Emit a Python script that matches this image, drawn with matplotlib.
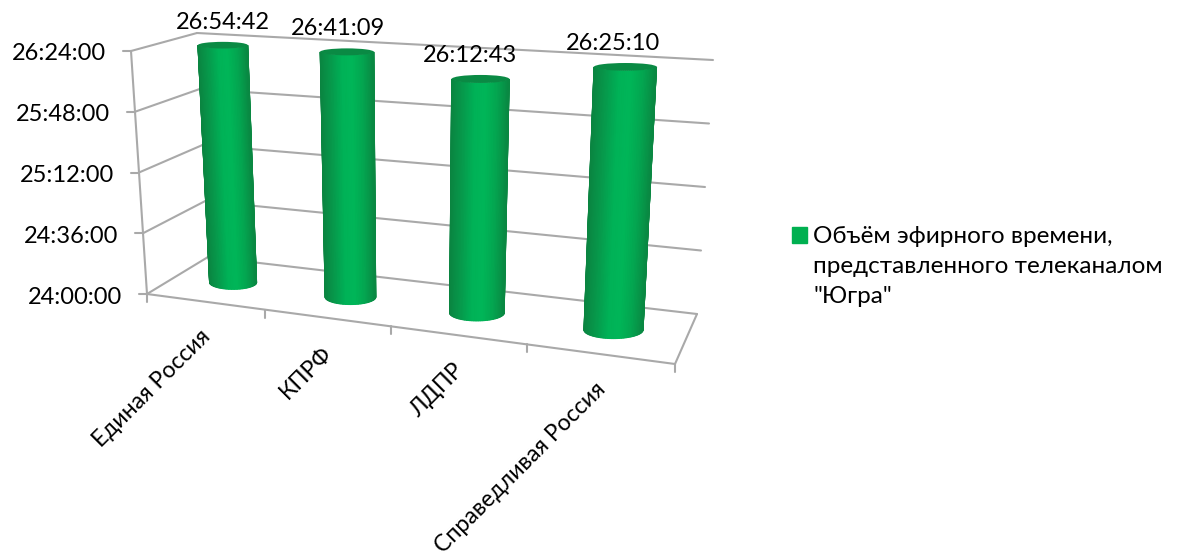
import numpy as np
import matplotlib
matplotlib.use("Agg")
import matplotlib.pyplot as plt
from matplotlib.patches import Patch, Ellipse, Rectangle
from matplotlib.colors import LinearSegmentedColormap
from matplotlib.legend_handler import HandlerPatch

plt.rcParams['font.family'] = ['Lato', 'Open Sans', 'DejaVu Sans']

# ── DATA ─────────────────────────────────────────────────────
categories = ["Единая Россия", "КПРФ", "ЛДПР", "Справедливая Россия"]
durations = ["26:54:42", "26:41:09", "26:12:43", "26:25:10"]
y_ticks = ["24:00:00", "24:36:00", "25:12:00", "25:48:00", "26:24:00"]
series_name = 'Объём эфирного времени,\nпредставленного телеканалом\n"Югра"'

# ── STYLE ────────────────────────────────────────────────────
GRID = "#a9a9a9"
FONT = 17
LABEL_DX = [0, -9, -10, -12]
shade = LinearSegmentedColormap.from_list(
    "cyl", ["#0a8541", "#079a4c", "#00b257", "#00b658", "#04a550", "#0a8842"])

# frame corners in figure pixels: floor, then the 26:24:00 plane
FLOOR = {"fl": (147, 294), "fr": (675, 364), "bl": (208, 257), "br": (697, 314)}
ROOF = {"fl": (131, 51), "fr": (691, 82), "bl": (197, 33), "br": (713, 60)}
K = 1.164   # perspective along the category axis


def secs(t):
    h, m, s = t.split(":")
    return int(h) * 3600 + int(m) * 60 + int(s)


def warp(u):
    return u / (u + K * (1 - u))


def plane(c, u, w):
    f = warp(u)
    front = np.array(c["fl"]) * (1 - f) + np.array(c["fr"]) * f
    back = np.array(c["bl"]) * (1 - f) + np.array(c["br"]) * f
    return front * (1 - w) + back * w


def proj(u, w, v):
    return plane(FLOOR, u, w) * (1 - v) + plane(ROOF, u, w) * v


vmin, vmax = secs(y_ticks[0]), secs(y_ticks[-1])
levels = [(secs(t) - vmin) / (vmax - vmin) for t in y_ticks]

fig = plt.figure(figsize=(11.78, 5.59), dpi=100)
ax = fig.add_axes([0, 0, 1, 1])
ax.set_xlim(0, 1178)
ax.set_ylim(559, 0)
ax.axis("off")


def seg(a, b, lw=1.5):
    ax.plot([a[0], b[0]], [a[1], b[1]], color=GRID, lw=lw, zorder=1,
            solid_capstyle="round")


# ── WALLS AND GRID ───────────────────────────────────────────
for v, t in zip(levels, y_ticks):
    fl, bl, br = proj(0, 0, v), proj(0, 1, v), proj(1, 1, v)
    seg(fl, bl)
    seg(bl, br)
    seg(fl, fl - np.array([8, 0]))
    ax.text(fl[0] - 25, fl[1] + 3, t, ha="right", va="center",
            fontsize=FONT, color="black")

seg(proj(0, 0, 0), proj(0, 0, 1))
seg(proj(0, 0, 0), proj(1, 0, 0))
seg(proj(1, 0, 0), proj(1, 1, 0))

n = len(categories)
for i in range(n + 1):
    p = proj(i / n, 0, 0)
    q = proj(i / n, 0, 0) + np.array([0, 8])
    seg(p, q)

# ── CYLINDERS ────────────────────────────────────────────────
DU, DW, STRIPS = 0.052, 0.18, 48
for i, (name, d) in enumerate(zip(categories, durations)):
    u = (i + 0.5) / n
    # columns above the axis maximum are cut off at the top plane
    v = min(1.0, (secs(d) - vmin) / (vmax - vmin))
    c0, c1 = proj(u, 0.5, 0), proj(u, 0.5, v)
    rx0 = (proj(u + DU, 0.5, 0)[0] - proj(u - DU, 0.5, 0)[0]) / 2
    rx1 = (proj(u + DU, 0.5, v)[0] - proj(u - DU, 0.5, v)[0]) / 2
    ry0 = (proj(u, 0.5 - DW, 0)[1] - proj(u, 0.5 + DW, 0)[1]) / 2
    ry1 = (proj(u, 0.5 - DW, v)[1] - proj(u, 0.5 + DW, v)[1]) / 2

    th = np.linspace(-np.pi / 2, np.pi / 2, STRIPS + 1)
    X = np.vstack([c1[0] + rx1 * np.sin(th), c0[0] + rx0 * np.sin(th)])
    Y = np.vstack([c1[1] + ry1 * np.cos(th), c0[1] + ry0 * np.cos(th)])
    C = np.vstack([(np.sin(th) + 1) / 2] * 2)
    ax.pcolormesh(X, Y, C, shading="gouraud", cmap=shade, vmin=0, vmax=1, zorder=3)

    ax.add_patch(Ellipse(c1, 2 * rx1, 2 * ry1, color="#0a8a44", lw=0, zorder=4))
    ax.text(c1[0] + LABEL_DX[i], c1[1] - 23, d, ha="center", va="center",
            fontsize=FONT, color="black", zorder=5)

    # category label
    t = proj(u, 0, 0)
    ax.text(t[0] + 2, t[1] + 32, name, rotation=45, rotation_mode="anchor",
            ha="right", va="center", fontsize=16.6, color="black")


# ── LEGEND ───────────────────────────────────────────────────
def first_line_key(legend, orig_handle, xdescent, ydescent, width, height, fontsize):
    # key sits next to the first line of the wrapped label
    return Rectangle((-xdescent, -ydescent + 23), width, height)


ax.legend(handles=[Patch(color="#00b050", label=series_name)],
          handler_map={Patch: HandlerPatch(patch_func=first_line_key)},
          loc="upper left", bbox_to_anchor=(785, 219),
          bbox_transform=ax.transData, frameon=False, fontsize=17.5,
          handlelength=0.62, handleheight=0.62, handletextpad=0.25,
          borderpad=0.3, borderaxespad=0, labelspacing=0)
ax.get_legend().get_texts()[0].set_linespacing(1.52)

fig.savefig("out.png", dpi=100)
